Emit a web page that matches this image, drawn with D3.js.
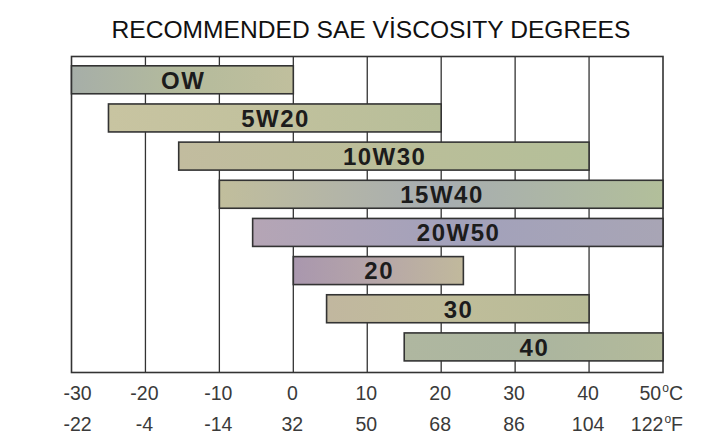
<!DOCTYPE html>
<html><head><meta charset="utf-8">
<script src="https://cdn.jsdelivr.net/npm/d3@7"></script>
<style>
html,body{margin:0;padding:0;background:#fff;}
text{font-family:"Liberation Sans",Arial,Helvetica,sans-serif;}
</style></head>
<body>
<svg id="chart" width="724" height="446"></svg>
<script>
// ---- data ----
const title = "RECOMMENDED SAE VİSCOSITY DEGREES";
const grades = ["OW","5W20","10W30","15W40","20W50","20","30","40"];
const minC = [-30,-25,-15.5,-10,-5.5,0,4.5,15];
const maxC = [0,20,40,50,50,23,40,50];
const ticksC = [-30,-20,-10,0,10,20,30,40,50];
const ticksF = ["-22","-4","-14","32","50","68","86","104","122"];
const barColors = [
  ["#a6aea8","#b4bb9c","#c0bf9d"],
  ["#c8c4a1","#c1c19d","#b7be99"],
  ["#c2bc9f","#bbbe99","#b4bf99"],
  ["#c1be9c","#a7adb1","#b2bf9a"],
  ["#b5a5b5","#a2a1bb","#a8a5b5"],
  ["#a997ae","#b6a6a8","#c1b99c"],
  ["#c1b79f","#bfbd9a","#b7bb97"],
  ["#afb7a0","#abb59f","#b3ba9a"]
];

const svg = d3.select("#chart");
const frame = {left:71.5, right:663, top:56.5, bottom:372.5};

const x = d3.scaleLinear().domain([-30,50]).range([frame.left, frame.right]);
const y = d3.scaleBand().domain(grades).range([frame.top, frame.bottom])
  .paddingInner(0.267).paddingOuter(0.274).align(0.445);

// title
svg.append("text").attr("x", 371).attr("y", 38).attr("text-anchor","middle")
  .attr("font-size", 24.6).attr("fill","#111").text(title);

// gradients
const defs = svg.append("defs");
grades.forEach((g,i)=>{
  const lg = defs.append("linearGradient").attr("id","g"+i).attr("x1","0").attr("x2","1").attr("y1","0").attr("y2","0");
  barColors[i].forEach((c,j)=>lg.append("stop").attr("offset", (j/(barColors[i].length-1)*100)+"%").attr("stop-color", c));
});
// grain filter
const f = defs.append("filter").attr("id","grain").attr("x","0").attr("y","0").attr("width","1").attr("height","1");
f.append("feTurbulence").attr("type","fractalNoise").attr("baseFrequency","0.8").attr("numOctaves","2").attr("seed","3").attr("result","n");
f.append("feColorMatrix").attr("in","n").attr("type","matrix")
  .attr("values","0 0 0 0 0.5  0 0 0 0 0.5  0 0 0 0 0.5  0 0 0 0.5 -0.05").attr("result","nm");
f.append("feBlend").attr("in","SourceGraphic").attr("in2","nm").attr("mode","overlay").attr("result","b");
f.append("feComposite").attr("in","b").attr("in2","SourceGraphic").attr("operator","in");

// gridlines
svg.append("g").selectAll("line").data(ticksC.slice(1,-1)).join("line")
  .attr("x1", d=>x(d)).attr("x2", d=>x(d))
  .attr("y1", frame.top).attr("y2", frame.bottom)
  .attr("stroke","#333").attr("stroke-width",1.3);

// frame
svg.append("rect").attr("x", frame.left).attr("y", frame.top)
  .attr("width", frame.right-frame.left).attr("height", frame.bottom-frame.top)
  .attr("fill","none").attr("stroke","#333").attr("stroke-width",1.6);

// bars
const bars = svg.append("g").selectAll("g").data(grades).join("g");
bars.append("rect")
  .attr("x",(d,i)=>x(minC[i])).attr("y",d=>y(d))
  .attr("width",(d,i)=>x(maxC[i])-x(minC[i])).attr("height", y.bandwidth())
  .attr("fill",(d,i)=>"url(#g"+i+")").attr("filter","url(#grain)");
bars.append("rect")
  .attr("x",(d,i)=>x(minC[i])).attr("y",d=>y(d))
  .attr("width",(d,i)=>x(maxC[i])-x(minC[i])).attr("height", y.bandwidth())
  .attr("fill","none").attr("stroke","#333").attr("stroke-width",1.6);
bars.append("text")
  .attr("x",(d,i)=>(x(minC[i])+x(maxC[i]))/2 + 0.8)
  .attr("y",d=>y(d)+y.bandwidth()/2+8.8)
  .attr("text-anchor","middle").attr("font-size",24).attr("font-weight","bold")
  .attr("letter-spacing","1.5px").attr("fill","#1c1c1c").text(d=>d);

// axis labels (two rows)
function labelRow(labels, yPos, unit){
  const n = labels.length;
  const g = svg.append("g").attr("font-size",19.5).attr("fill","#3a3a3a");
  labels.forEach((lab,i)=>{
    const t = g.append("text").attr("y", yPos);
    if(i===0){ t.attr("x", x(ticksC[i])-8).attr("text-anchor","start").text(lab); }
    else if(i===n-1){
      t.attr("x", x(ticksC[i])+20).attr("text-anchor","end");
      t.append("tspan").text(lab);
      t.append("tspan").attr("font-size",12).attr("dy",-8).attr("dx",1).text("o");
      t.append("tspan").attr("dy",8).text(unit);
    }
    else { t.attr("x", x(ticksC[i])-1).attr("text-anchor","middle").text(lab); }
  });
}
labelRow(ticksC.map(String), 400, "C");
labelRow(ticksF, 431, "F");
</script>
</body></html>
